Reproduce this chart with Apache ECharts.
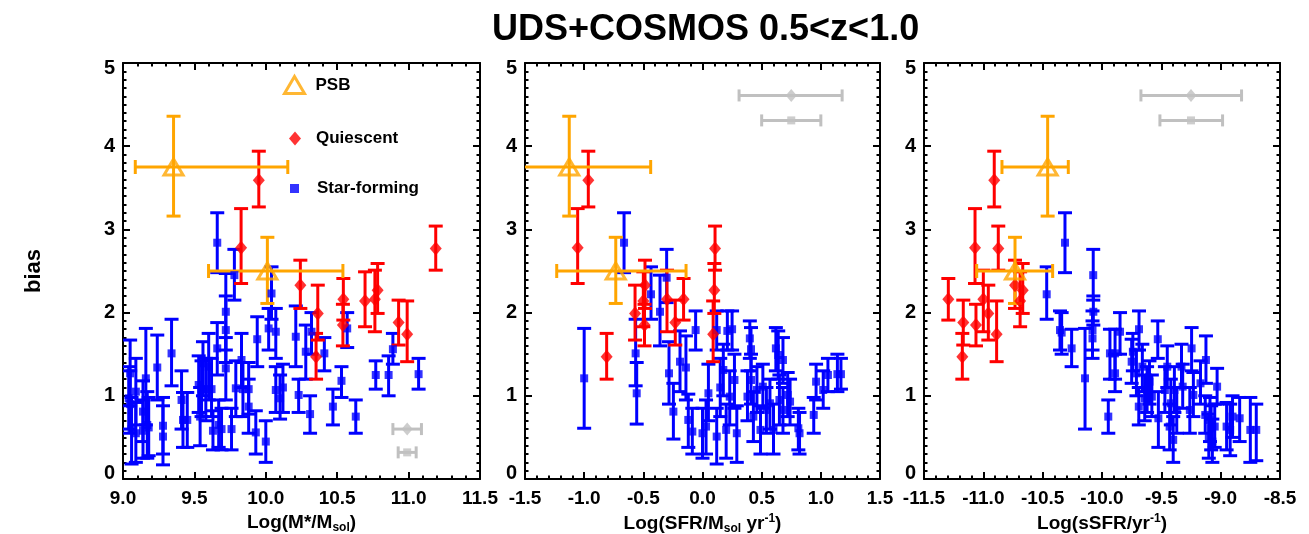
<!DOCTYPE html>
<html>
<head>
<meta charset="utf-8">
<script src="https://cdn.jsdelivr.net/npm/echarts@6/dist/echarts.min.js"></script>
<style>
html, body { margin: 0; padding: 0; background: #fff; }
#chart { width: 1309px; height: 534px; }
</style>
</head>
<body>
<div id="chart"></div>
<script>
/* bias vs stellar mass, SFR, sSFR -- UDS+COSMOS 0.5<z<1.0 */
const FONT = "Liberation Sans, Arial, Helvetica, sans-serif";

/* Quiescent: same objects in every panel, [bias, lower, upper] */
const qBias = [3.59, 2.78, 2.77, 2.33, 1.99, 1.47, 2.16, 1.85, 2.14, 2.16, 2.27, 1.88, 1.74];
const qLo = [3.27, 2.35, 2.51, 2.05, 1.67, 1.2, 1.91, 1.6, 1.83, 1.77, 1.99, 1.61, 1.41];
const qHi = [3.94, 3.25, 3.04, 2.63, 2.33, 1.75, 2.41, 2.1, 2.49, 2.51, 2.59, 2.15, 2.14];
const qMass = [9.951, 9.827, 11.19, 10.242, 10.364, 10.352, 10.543, 10.54, 10.695, 10.764, 10.783, 10.93, 10.99];
const qSfr = [-0.965, -1.055, 0.106, -0.486, -0.57, -0.81, -0.16, -0.49, -0.5, -0.3, 0.1, -0.23, 0.09];
const qSsfr = [-10.908, -11.07, -10.874, -10.733, -10.958, -11.177, -11.295, -11.062, -10.69, -11.0, -10.668, -11.169, -10.888];

/* PSB: [x, bias, biasLo, biasHi, xLo, xHi] */
const psbMass = [[9.354, 3.75, 3.16, 4.36, 9.086, 10.154], [10.011, 2.5, 2.11, 2.905, 9.599, 10.54]];
const psbSfr = [[-1.126, 3.75, 3.16, 4.36, -1.81, -0.438], [-0.733, 2.5, 2.11, 2.905, -1.232, -0.139]];
const psbSsfr = [[-10.458, 3.75, 3.16, 4.36, -10.843, -10.284], [-10.733, 2.5, 2.11, 2.905, -11.056, -10.416]];

/* typical x errors (grey): [x, y, xLo, xHi], diamond then square */
const refMass = [[10.99, 0.60, 10.89, 11.09], [10.99, 0.32, 10.927, 11.053]];
const refSfr = [[0.75, 4.61, 0.309, 1.18], [0.75, 4.31, 0.5, 1.0]];
const refSsfr = [[-9.25, 4.61, -9.672, -8.824], [-9.25, 4.31, -9.512, -8.984]];

/* Star-forming: [x, bias, lower, upper] */
const sfMass = [
	[9.05, 1.27, 0.88, 1.67], [9.04, 0.97, 0.6, 1.35], [9.06, 0.6, 0.18, 0.98], [9.05, 0.9, 0.55, 1.3],
	[9.09, 1.05, 0.65, 1.45], [9.09, 0.55, 0.2, 0.92], [9.14, 0.58, 0.25, 0.95], [9.16, 1.21, 0.65, 1.81],
	[9.14, 0.81, 0.45, 1.18], [9.17, 0.65, 0.25, 1.05], [9.18, 0.62, 0.28, 0.98], [9.24, 1.34, 0.95, 1.73],
	[9.28, 0.64, 0.3, 0.98], [9.28, 0.51, 0.17, 0.88], [9.34, 1.51, 1.12, 1.92], [9.41, 0.95, 0.6, 1.3],
	[9.42, 0.71, 0.38, 1.04], [9.45, 0.71, 0.38, 1.04], [9.53, 1.13, 0.8, 1.48], [9.54, 0.75, 0.4, 1.1],
	[9.55, 1.08, 0.75, 1.42], [9.56, 1.39, 1.0, 1.65], [9.58, 1.08, 0.7, 1.45], [9.6, 1.35, 0.95, 1.75],
	[9.62, 1.08, 0.75, 1.45], [9.63, 0.58, 0.35, 0.82], [9.66, 1.57, 1.25, 1.88], [9.67, 0.65, 0.38, 0.95],
	[9.69, 0.6, 0.35, 0.85], [9.72, 2.01, 1.55, 2.47], [9.72, 1.79, 1.4, 2.2], [9.72, 1.33, 0.95, 1.7],
	[9.76, 0.6, 0.35, 0.85], [9.78, 2.45, 2.15, 2.76], [9.79, 1.09, 0.75, 1.42], [9.83, 1.43, 1.1, 1.75],
	[9.84, 1.08, 0.75, 1.4], [9.88, 0.87, 0.55, 1.2], [9.88, 1.08, 0.78, 1.4], [9.94, 1.68, 1.35, 1.95],
	[9.93, 0.56, 0.3, 0.82], [10.0, 0.45, 0.2, 0.7], [10.04, 2.23, 1.92, 2.55], [10.02, 1.81, 1.55, 2.05],
	[10.07, 1.77, 1.45, 2.05], [10.07, 1.07, 0.8, 1.35], [10.1, 0.97, 0.72, 1.25], [10.12, 1.1, 0.8, 1.38],
	[10.21, 1.71, 1.35, 2.08], [10.23, 1.01, 0.8, 1.2], [10.28, 1.53, 1.2, 1.85], [10.31, 0.78, 0.55, 1.0],
	[10.32, 1.77, 1.5, 2.0], [10.41, 1.51, 1.3, 1.7], [10.47, 0.87, 0.65, 1.08], [10.53, 1.18, 0.98, 1.35],
	[10.57, 1.81, 1.58, 2.0], [10.63, 0.75, 0.55, 0.95], [10.77, 1.25, 1.08, 1.42], [10.86, 1.25, 1.0, 1.48],
	[10.89, 1.56, 1.38, 1.75], [11.07, 1.26, 1.08, 1.45], [9.66, 2.84, 2.48, 3.2]
];
const sfSfr = [
	[-1.0, 1.21, 0.61, 1.81], [-0.565, 1.51, 1.12, 1.92], [-0.556, 1.03, 0.66, 1.4], [-0.435, 2.22, 1.92, 2.55],
	[-0.359, 2.01, 1.6, 2.45], [-0.303, 2.42, 2.12, 2.76], [-0.663, 2.84, 2.48, 3.2], [-0.283, 1.27, 0.9, 1.65],
	[-0.246, 0.81, 0.48, 1.15], [-0.19, 1.41, 1.05, 1.78], [-0.14, 1.34, 0.95, 1.72], [-0.12, 0.71, 0.38, 1.02],
	[-0.086, 0.57, 0.3, 0.85], [-0.058, 1.79, 1.55, 2.02], [0.0, 0.55, 0.25, 0.85], [0.03, 0.63, 0.3, 0.95],
	[0.05, 1.03, 0.7, 1.38], [0.12, 1.79, 1.55, 2.02], [0.12, 0.51, 0.18, 0.85], [0.15, 1.1, 0.75, 1.45],
	[0.176, 1.31, 1.0, 1.62], [0.2, 0.59, 0.25, 0.9], [0.21, 1.78, 1.55, 2.02], [0.25, 1.8, 1.55, 2.02],
	[0.23, 0.99, 0.65, 1.3], [0.27, 1.19, 0.85, 1.5], [0.29, 0.55, 0.2, 0.88], [0.38, 0.99, 0.7, 1.3],
	[0.4, 1.69, 1.45, 1.9], [0.41, 1.56, 1.3, 1.82], [0.41, 1.19, 0.9, 1.5], [0.43, 0.75, 0.45, 1.05],
	[0.46, 1.07, 0.8, 1.35], [0.49, 0.59, 0.3, 0.88], [0.51, 1.11, 0.85, 1.38], [0.54, 0.83, 0.55, 1.1],
	[0.57, 0.91, 0.6, 1.2], [0.6, 0.59, 0.3, 0.9], [0.62, 1.57, 1.3, 1.82], [0.64, 1.49, 1.2, 1.78],
	[0.65, 0.95, 0.65, 1.25], [0.68, 0.83, 0.55, 1.1], [0.68, 1.43, 1.15, 1.7], [0.72, 1.01, 0.75, 1.28],
	[0.74, 0.93, 0.65, 1.2], [0.81, 0.61, 0.35, 0.85], [0.82, 0.55, 0.3, 0.8], [0.94, 0.77, 0.55, 0.98],
	[0.96, 1.17, 0.95, 1.38], [1.02, 1.07, 0.85, 1.3], [1.06, 1.25, 1.05, 1.45], [1.14, 1.26, 1.05, 1.5],
	[1.17, 1.26, 1.08, 1.45]
];
const sfSsfr = [
	[-10.312, 2.84, 2.48, 3.2], [-10.074, 2.45, 2.15, 2.76], [-10.466, 2.22, 1.92, 2.55], [-10.354, 1.79, 1.55, 2.02],
	[-10.34, 1.76, 1.5, 2.0], [-10.256, 1.57, 1.35, 1.8], [-10.143, 1.21, 0.6, 1.81], [-10.073, 2.01, 1.85, 2.2],
	[-10.08, 1.79, 1.55, 2.02], [-10.08, 1.69, 1.45, 1.9], [-9.947, 0.75, 0.55, 0.95], [-9.933, 1.51, 1.2, 1.8],
	[-9.89, 1.51, 1.2, 1.8], [-9.89, 1.27, 1.05, 1.5], [-9.848, 1.77, 1.5, 2.0], [-9.75, 1.41, 1.15, 1.68],
	[-9.74, 1.53, 1.3, 1.75], [-9.71, 1.27, 1.0, 1.55], [-9.688, 1.8, 1.55, 2.02], [-9.69, 0.87, 0.65, 1.1],
	[-9.66, 1.35, 1.05, 1.62], [-9.64, 0.97, 0.7, 1.25], [-9.62, 1.07, 0.8, 1.35], [-9.6, 1.17, 0.9, 1.42],
	[-9.58, 0.99, 0.75, 1.25], [-9.53, 1.68, 1.45, 1.9], [-9.525, 0.73, 0.38, 1.05], [-9.47, 1.07, 0.8, 1.35],
	[-9.45, 1.35, 1.1, 1.6], [-9.43, 0.63, 0.35, 0.9], [-9.42, 0.91, 0.65, 1.2], [-9.4, 0.47, 0.2, 0.75],
	[-9.39, 1.07, 0.8, 1.35], [-9.37, 0.83, 0.55, 1.1], [-9.33, 1.35, 1.1, 1.62], [-9.32, 1.11, 0.85, 1.38],
	[-9.26, 0.83, 0.55, 1.1], [-9.245, 1.57, 1.3, 1.82], [-9.23, 1.01, 0.75, 1.28], [-9.17, 1.15, 0.9, 1.42],
	[-9.13, 0.77, 0.55, 1.0], [-9.124, 1.43, 1.15, 1.72], [-9.1, 0.51, 0.25, 0.78], [-9.09, 0.71, 0.45, 0.98],
	[-9.08, 0.61, 0.35, 0.88], [-9.07, 0.45, 0.2, 0.72], [-9.05, 0.63, 0.38, 0.9], [-9.03, 1.11, 0.9, 1.33],
	[-8.95, 0.63, 0.35, 0.92], [-8.92, 0.59, 0.28, 0.9], [-8.9, 0.75, 0.5, 1.0], [-8.84, 0.73, 0.45, 0.98],
	[-8.75, 0.59, 0.2, 0.98], [-8.7, 0.59, 0.22, 0.9]
];

const xRanges = [[9, 11.5], [-1.5, 1.5], [-11.5, -8.5]];
const xNames = [
	"{m|Log(M*/M}{s|sol}{m|)}",
	"{m|Log(SFR/M}{s|sol}{m| yr}{p|-1}{m|)}",
	"{m|Log(sSFR/yr}{p|-1}{m|)}",
];

const BLUE = "#0000ff", RED = "#ff0000", ORANGE = "#ffa500", GREY = "#c0c0c0";

const grids = [
	{ left: 123, top: 63, width: 357, height: 416 },
	{ left: 525, top: 63, width: 355, height: 416 },
	{ left: 924, top: 63, width: 356, height: 416 },
].map((g) => ({ ...g, containLabel: false, outerBoundsMode: "none" }));

/* error bars: mode "y" -> cols 2,3 are y range; "xy" -> 2,3 y and 4,5 x; "x" -> 2,3 x range */
function errorBars(color, mode, cap) {
	return (params, api) => {
		const x = api.value(0);
		const y = api.value(1);
		const style = { stroke: color, lineWidth: 3, fill: null };
		const children = [];
		const vBar = (lo, hi) => {
			const a = api.coord([x, lo]);
			const b = api.coord([x, hi]);
			children.push({ type: "line", shape: { x1: a[0], y1: a[1], x2: b[0], y2: b[1] }, style });
			children.push({ type: "line", shape: { x1: a[0] - cap, y1: a[1], x2: a[0] + cap, y2: a[1] }, style });
			children.push({ type: "line", shape: { x1: b[0] - cap, y1: b[1], x2: b[0] + cap, y2: b[1] }, style });
		};
		const hBar = (lo, hi) => {
			const a = api.coord([lo, y]);
			const b = api.coord([hi, y]);
			children.push({ type: "line", shape: { x1: a[0], y1: a[1], x2: b[0], y2: b[1] }, style });
			children.push({ type: "line", shape: { x1: a[0], y1: a[1] - cap, x2: a[0], y2: a[1] + cap }, style });
			children.push({ type: "line", shape: { x1: b[0], y1: b[1] - cap, x2: b[0], y2: b[1] + cap }, style });
		};
		if (mode === "x") hBar(api.value(2), api.value(3));
		else vBar(api.value(2), api.value(3));
		if (mode === "xy") hBar(api.value(4), api.value(5));
		return { type: "group", children };
	};
}

function panelSeries(i, sf, q, psb, ref) {
	const ax = { xAxisIndex: i, yAxisIndex: i };
	const pt = (d) => d.map((r) => [r[0], r[1]]);
	return [
		{ ...ax, type: "custom", clip: true, renderItem: errorBars(BLUE, "y", 7), data: sf, silent: true },
		{ ...ax, type: "scatter", name: "Star-forming", symbol: "rect", symbolSize: 8, itemStyle: { color: BLUE }, data: pt(sf) },
		{ ...ax, type: "custom", clip: true, renderItem: errorBars(RED, "y", 7), data: q, silent: true },
		{ ...ax, type: "scatter", name: "Quiescent", symbol: "diamond", symbolSize: [12, 14], itemStyle: { color: RED }, data: pt(q) },
		{ ...ax, type: "custom", clip: true, renderItem: errorBars(ORANGE, "xy", 7), data: psb, silent: true },
		{
			...ax, type: "scatter", name: "PSB", symbol: "triangle", symbolSize: [19, 16],
			itemStyle: { color: "rgba(255,255,255,0)", borderColor: ORANGE, borderWidth: 3 }, data: pt(psb),
		},
		{ ...ax, type: "custom", clip: true, renderItem: errorBars(GREY, "x", 6), data: ref, silent: true },
		{ ...ax, type: "scatter", symbol: "diamond", symbolSize: [11, 13], itemStyle: { color: GREY }, data: [[ref[0][0], ref[0][1]]] },
		{ ...ax, type: "scatter", symbol: "rect", symbolSize: 8, itemStyle: { color: GREY }, data: [[ref[1][0], ref[1][1]]] },
	];
}

const qTable = (xs) => xs.map((x, k) => [x, qBias[k], qLo[k], qHi[k]]);

const tickStyle = { color: "#000", width: 2 };
const labelText = { color: "#000", fontFamily: FONT, fontWeight: "bold", fontSize: 19 };
const rich = {
	m: { fontFamily: FONT, fontWeight: "bold", fontSize: 19, color: "#000", lineHeight: 22 },
	s: { fontFamily: FONT, fontWeight: "bold", fontSize: 12, color: "#000", lineHeight: 8, verticalAlign: "bottom" },
	p: { fontFamily: FONT, fontWeight: "bold", fontSize: 12, color: "#000", lineHeight: 8, verticalAlign: "top" },
};
/* y labels at the ends sit inside the frame, as in the original plot */
const yRich = {
	n: { ...labelText, fontSize: 20 },
	lo: { ...labelText, fontSize: 20, padding: [0, 0, 11, 0] },
	hi: { ...labelText, fontSize: 20, padding: [11, 0, 0, 0] },
};
const yFormat = (v) => (v === 0 ? "{lo|0}" : v === 5 ? "{hi|5}" : "{n|" + v + "}");

const xAxes = [];
const yAxes = [];
[0, 1, 2].forEach((i) => {
	const base = {
		gridIndex: i, type: "value", min: xRanges[i][0], max: xRanges[i][1], interval: 0.5,
		axisLine: { show: true, onZero: false, lineStyle: tickStyle },
		axisTick: { show: true, inside: true, length: 7, lineStyle: tickStyle },
		minorTick: { show: true, splitNumber: 5, length: 3.5, lineStyle: tickStyle },
		splitLine: { show: false },
	};
	xAxes[i] = {
		...base, position: "bottom",
		axisLabel: { ...labelText, margin: 10, showMinLabel: true, showMaxLabel: true, formatter: (v) => v.toFixed(1) },
		name: xNames[i], nameLocation: "middle", nameGap: 31, nameTextStyle: { rich },
	};
	xAxes[3 + i] = { ...base, position: "top", axisLabel: { show: false } };
	const yBase = {
		gridIndex: i, type: "value", min: 0, max: 5, interval: 1,
		axisLine: { show: true, onZero: false, lineStyle: tickStyle },
		axisTick: { show: true, inside: true, length: 7, lineStyle: tickStyle },
		minorTick: { show: true, splitNumber: 10, length: 3.5, lineStyle: tickStyle },
		splitLine: { show: false },
	};
	yAxes[i] = { ...yBase, position: "left", axisLabel: { margin: 8, formatter: yFormat, rich: yRich } };
	yAxes[3 + i] = { ...yBase, position: "right", axisLabel: { show: false } };
});
yAxes[0].name = "bias";
yAxes[0].nameLocation = "middle";
yAxes[0].nameGap = 78;
yAxes[0].nameTextStyle = { color: "#000", fontFamily: FONT, fontWeight: "bold", fontSize: 22 };

const legendText = { color: "#000", fontFamily: FONT, fontWeight: "bold", fontSize: 17 };
const legends = [
	{ data: ["PSB"], left: 278, top: 70, itemWidth: 20, itemHeight: 17, textStyle: { ...legendText, padding: [0, 0, 0, 6] } },
	{ data: ["Quiescent"], left: 284, top: 125, itemWidth: 12, itemHeight: 14, textStyle: { ...legendText, padding: [0, 0, 0, 10] } },
	{ data: ["Star-forming"], left: 285, top: 175, itemWidth: 9, itemHeight: 9, textStyle: { ...legendText, padding: [0, 0, 0, 13] } },
].map((l) => ({ ...l, selectedMode: false, orient: "vertical", itemStyle: { borderWidth: 0 } }));
legends[0].itemStyle = { color: "rgba(255,255,255,0)", borderColor: ORANGE, borderWidth: 3 };

const chart = echarts.init(document.getElementById("chart"), null, { renderer: "canvas" });
chart.setOption({
	animation: false,
	backgroundColor: "#fff",
	title: {
		text: "UDS+COSMOS 0.5<z<1.0",
		left: 487, top: 7,
		textStyle: { color: "#000", fontFamily: FONT, fontWeight: "bold", fontSize: 36 },
	},
	legend: legends,
	grid: grids,
	xAxis: xAxes,
	yAxis: yAxes,
	series: [
		...panelSeries(0, sfMass, qTable(qMass), psbMass, refMass),
		...panelSeries(1, sfSfr, qTable(qSfr), psbSfr, refSfr),
		...panelSeries(2, sfSsfr, qTable(qSsfr), psbSsfr, refSsfr),
	],
});
</script>
</body>
</html>
